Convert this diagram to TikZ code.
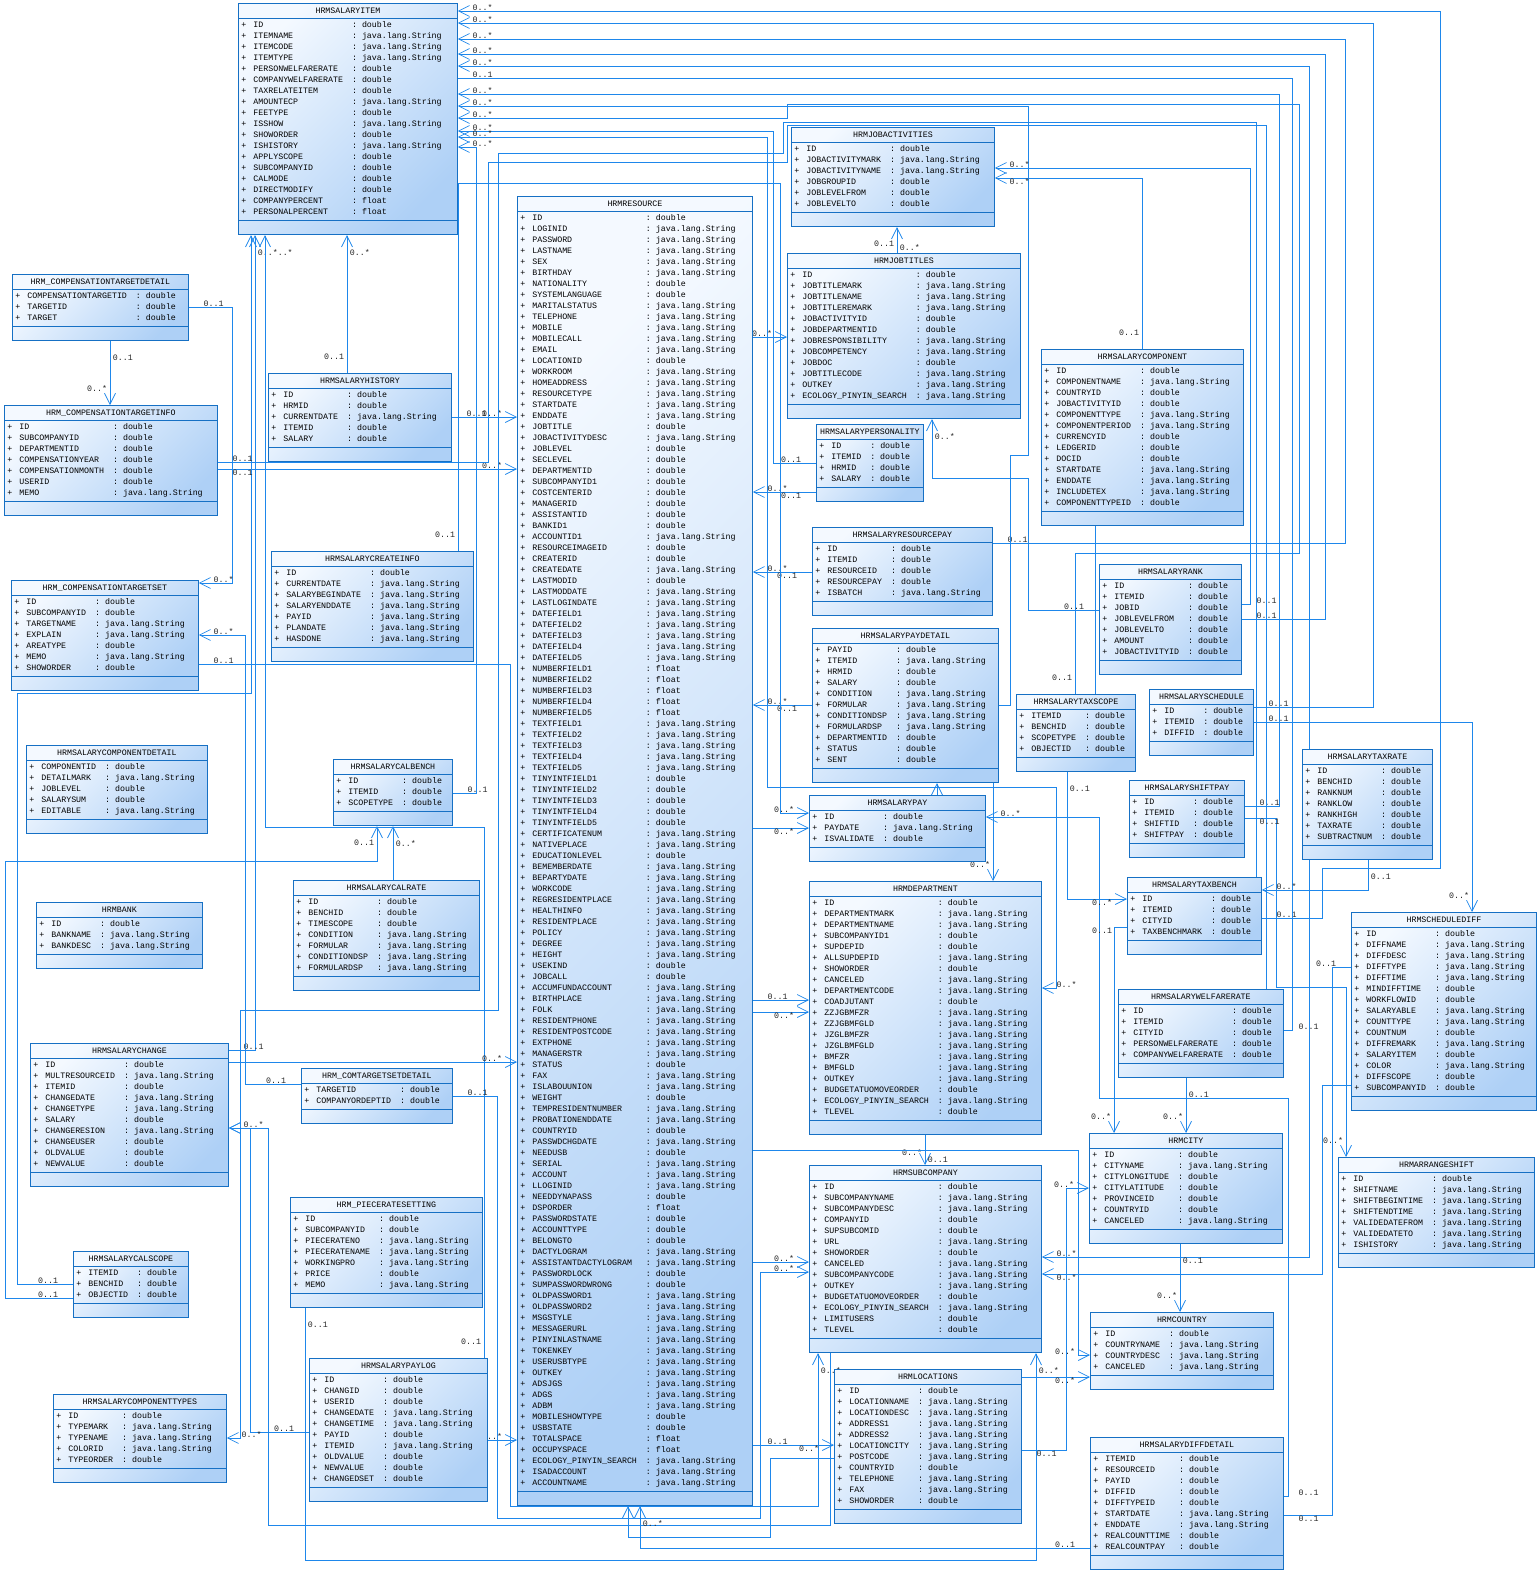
\documentclass[tikz,border=0pt]{standalone}
\usepackage{fontspec}
\setmonofont{Liberation Mono}
\usepackage{array}
\usetikzlibrary{positioning, arrows.meta, shapes.multipart}

\definecolor{clsline}{RGB}{22,112,196}
\definecolor{clstop}{RGB}{244,249,255}
\definecolor{clsbot}{RGB}{174,208,246}
\definecolor{wire}{RGB}{30,135,235}
\pgfdeclarelayer{bg}
\pgfdeclarelayer{wires}
\pgfsetlayers{bg,wires,main}

\newcommand\dbl{double}
\newcommand\jstr{java.lang.String}
\newcommand\flt{float}
\newcommand\umlfont{\ttfamily\fontsize{8.3}{11}\selectfont}
% class box: id, title, x, y, width, rows
\newcommand\umlclass[6]{%
  \node[cls, minimum width=#5pt] (#1) at (#3,#4)
    {\strut #2\nodepart{two}\begin{tabular}{@{}>{+\hspace{7pt}}l@{\hspace{9pt}:\hspace{5pt}}l@{}}#6\end{tabular}};}

\begin{document}
\begin{tikzpicture}[
  x=1pt, y=-1pt,
  cls/.style={rectangle split, rectangle split parts=3,
              rectangle split part align={center,left,left},
              rectangle split empty part height=11pt,
              draw=clsline, line width=0.8pt,
              top color=clstop, bottom color=clsbot, shading angle=45,
              anchor=north west, inner xsep=3pt, inner ysep=1.5pt, font=\umlfont},
  assoc/.style={draw=wire, line width=0.7pt},
  nav/.style={assoc, -{Straight Barb[length=11pt, width=11pt]}},
  bnav/.style={assoc, {Straight Barb[length=11pt, width=11pt]}-{Straight Barb[length=11pt, width=11pt]}},
  lab/.style={font=\umlfont, inner sep=0.5pt, text=black!85},
  lr/.style={lab, anchor=south west, xshift=14pt},
  lrb/.style={lab, anchor=north west, xshift=14pt},
  ll/.style={lab, anchor=south east, xshift=-14pt},
  llb/.style={lab, anchor=north east, xshift=-14pt},
  ltl/.style={lab, anchor=south east, xshift=-2pt, yshift=13pt},
  ltr/.style={lab, anchor=south west, xshift=2pt, yshift=2pt},
  lbr/.style={lab, anchor=north west, xshift=2pt, yshift=-13pt},
  lbl/.style={lab, anchor=north east, xshift=-2pt, yshift=-13pt}
]
\useasboundingbox (0,0) rectangle (1538,1575);
\begin{pgfonlayer}{bg}
  \fill[white] (0,0) rectangle (1538,1575);
\end{pgfonlayer}

% left column
\umlclass{item}{HRMSALARYITEM}{238}{3}{219}{ID & \dbl \\ ITEMNAME & \jstr \\ ITEMCODE & \jstr \\ ITEMTYPE & \jstr \\ PERSONWELFARERATE & \dbl \\ COMPANYWELFARERATE & \dbl \\ TAXRELATEITEM & \dbl \\ AMOUNTECP & \jstr \\ FEETYPE & \dbl \\ ISSHOW & \jstr \\ SHOWORDER & \dbl \\ ISHISTORY & \jstr \\ APPLYSCOPE & \dbl \\ SUBCOMPANYID & \dbl \\ CALMODE & \dbl \\ DIRECTMODIFY & \dbl \\ COMPANYPERCENT & \flt \\ PERSONALPERCENT & \flt}
\umlclass{cdetail}{HRM\_COMPENSATIONTARGETDETAIL}{12}{274}{176}{COMPENSATIONTARGETID & \dbl \\ TARGETID & \dbl \\ TARGET & \dbl}
\umlclass{cinfo}{HRM\_COMPENSATIONTARGETINFO}{4}{405}{213}{ID & \dbl \\ SUBCOMPANYID & \dbl \\ DEPARTMENTID & \dbl \\ COMPENSATIONYEAR & \dbl \\ COMPENSATIONMONTH & \dbl \\ USERID & \dbl \\ MEMO & \jstr}
\umlclass{history}{HRMSALARYHISTORY}{268}{373}{183}{ID & \dbl \\ HRMID & \dbl \\ CURRENTDATE & \jstr \\ ITEMID & \dbl \\ SALARY & \dbl}
\umlclass{createinfo}{HRMSALARYCREATEINFO}{271}{551}{202}{ID & \dbl \\ CURRENTDATE & \jstr \\ SALARYBEGINDATE & \jstr \\ SALARYENDDATE & \jstr \\ PAYID & \jstr \\ PLANDATE & \jstr \\ HASDONE & \jstr}
\umlclass{ctargetset}{HRM\_COMPENSATIONTARGETSET}{11}{580}{187}{ID & \dbl \\ SUBCOMPANYID & \dbl \\ TARGETNAME & \jstr \\ EXPLAIN & \jstr \\ AREATYPE & \dbl \\ MEMO & \jstr \\ SHOWORDER & \dbl}
\umlclass{compdetail}{HRMSALARYCOMPONENTDETAIL}{26}{745}{181}{COMPONENTID & \dbl \\ DETAILMARK & \jstr \\ JOBLEVEL & \dbl \\ SALARYSUM & \dbl \\ EDITABLE & \jstr}
\umlclass{calbench}{HRMSALARYCALBENCH}{333}{759}{119}{ID & \dbl \\ ITEMID & \dbl \\ SCOPETYPE & \dbl}
\umlclass{calrate}{HRMSALARYCALRATE}{293}{880}{186}{ID & \dbl \\ BENCHID & \dbl \\ TIMESCOPE & \dbl \\ CONDITION & \jstr \\ FORMULAR & \jstr \\ CONDITIONDSP & \jstr \\ FORMULARDSP & \jstr}
\umlclass{bank}{HRMBANK}{36}{902}{166}{ID & \dbl \\ BANKNAME & \jstr \\ BANKDESC & \jstr}
\umlclass{change}{HRMSALARYCHANGE}{30}{1043}{198}{ID & \dbl \\ MULTRESOURCEID & \jstr \\ ITEMID & \dbl \\ CHANGEDATE & \jstr \\ CHANGETYPE & \jstr \\ SALARY & \dbl \\ CHANGERESION & \jstr \\ CHANGEUSER & \dbl \\ OLDVALUE & \dbl \\ NEWVALUE & \dbl}
\umlclass{comtarget}{HRM\_COMTARGETSETDETAIL}{301}{1068}{151}{TARGETID & \dbl \\ COMPANYORDEPTID & \dbl}
\umlclass{piecerate}{HRM\_PIECERATESETTING}{290}{1197}{192}{ID & \dbl \\ SUBCOMPANYID & \dbl \\ PIECERATENO & \jstr \\ PIECERATENAME & \jstr \\ WORKINGPRO & \jstr \\ PRICE & \dbl \\ MEMO & \jstr}
\umlclass{calscope}{HRMSALARYCALSCOPE}{73}{1251}{115}{ITEMID & \dbl \\ BENCHID & \dbl \\ OBJECTID & \dbl}
\umlclass{paylog}{HRMSALARYPAYLOG}{309}{1358}{178}{ID & \dbl \\ CHANGID & \dbl \\ USERID & \dbl \\ CHANGEDATE & \jstr \\ CHANGETIME & \jstr \\ PAYID & \dbl \\ ITEMID & \jstr \\ OLDVALUE & \dbl \\ NEWVALUE & \dbl \\ CHANGEDSET & \dbl}
\umlclass{comptypes}{HRMSALARYCOMPONENTTYPES}{53}{1394}{173}{ID & \dbl \\ TYPEMARK & \jstr \\ TYPENAME & \jstr \\ COLORID & \jstr \\ TYPEORDER & \dbl}

% resource
\umlclass{resource}{HRMRESOURCE}{517}{196}{235}{ID & \dbl \\ LOGINID & \jstr \\ PASSWORD & \jstr \\ LASTNAME & \jstr \\ SEX & \jstr \\ BIRTHDAY & \jstr \\ NATIONALITY & \dbl \\ SYSTEMLANGUAGE & \dbl \\ MARITALSTATUS & \jstr \\ TELEPHONE & \jstr \\ MOBILE & \jstr \\ MOBILECALL & \jstr \\ EMAIL & \jstr \\ LOCATIONID & \dbl \\ WORKROOM & \jstr \\ HOMEADDRESS & \jstr \\ RESOURCETYPE & \jstr \\ STARTDATE & \jstr \\ ENDDATE & \jstr \\ JOBTITLE & \dbl \\ JOBACTIVITYDESC & \jstr \\ JOBLEVEL & \dbl \\ SECLEVEL & \dbl \\ DEPARTMENTID & \dbl \\ SUBCOMPANYID1 & \dbl \\ COSTCENTERID & \dbl \\ MANAGERID & \dbl \\ ASSISTANTID & \dbl \\ BANKID1 & \dbl \\ ACCOUNTID1 & \jstr \\ RESOURCEIMAGEID & \dbl \\ CREATERID & \dbl \\ CREATEDATE & \jstr \\ LASTMODID & \dbl \\ LASTMODDATE & \jstr \\ LASTLOGINDATE & \jstr \\ DATEFIELD1 & \jstr \\ DATEFIELD2 & \jstr \\ DATEFIELD3 & \jstr \\ DATEFIELD4 & \jstr \\ DATEFIELD5 & \jstr \\ NUMBERFIELD1 & \flt \\ NUMBERFIELD2 & \flt \\ NUMBERFIELD3 & \flt \\ NUMBERFIELD4 & \flt \\ NUMBERFIELD5 & \flt \\ TEXTFIELD1 & \jstr \\ TEXTFIELD2 & \jstr \\ TEXTFIELD3 & \jstr \\ TEXTFIELD4 & \jstr \\ TEXTFIELD5 & \jstr \\ TINYINTFIELD1 & \dbl \\ TINYINTFIELD2 & \dbl \\ TINYINTFIELD3 & \dbl \\ TINYINTFIELD4 & \dbl \\ TINYINTFIELD5 & \dbl \\ CERTIFICATENUM & \jstr \\ NATIVEPLACE & \jstr \\ EDUCATIONLEVEL & \dbl \\ BEMEMBERDATE & \jstr \\ BEPARTYDATE & \jstr \\ WORKCODE & \jstr \\ REGRESIDENTPLACE & \jstr \\ HEALTHINFO & \jstr \\ RESIDENTPLACE & \jstr \\ POLICY & \jstr \\ DEGREE & \jstr \\ HEIGHT & \jstr \\ USEKIND & \dbl \\ JOBCALL & \dbl \\ ACCUMFUNDACCOUNT & \jstr \\ BIRTHPLACE & \jstr \\ FOLK & \jstr \\ RESIDENTPHONE & \jstr \\ RESIDENTPOSTCODE & \jstr \\ EXTPHONE & \jstr \\ MANAGERSTR & \jstr \\ STATUS & \dbl \\ FAX & \jstr \\ ISLABOUUNION & \jstr \\ WEIGHT & \dbl \\ TEMPRESIDENTNUMBER & \jstr \\ PROBATIONENDDATE & \jstr \\ COUNTRYID & \dbl \\ PASSWDCHGDATE & \jstr \\ NEEDUSB & \dbl \\ SERIAL & \jstr \\ ACCOUNT & \jstr \\ LLOGINID & \jstr \\ NEEDDYNAPASS & \dbl \\ DSPORDER & \flt \\ PASSWORDSTATE & \dbl \\ ACCOUNTTYPE & \dbl \\ BELONGTO & \dbl \\ DACTYLOGRAM & \jstr \\ ASSISTANTDACTYLOGRAM & \jstr \\ PASSWORDLOCK & \dbl \\ SUMPASSWORDWRONG & \dbl \\ OLDPASSWORD1 & \jstr \\ OLDPASSWORD2 & \jstr \\ MSGSTYLE & \jstr \\ MESSAGERURL & \jstr \\ PINYINLASTNAME & \jstr \\ TOKENKEY & \jstr \\ USERUSBTYPE & \jstr \\ OUTKEY & \jstr \\ ADSJGS & \jstr \\ ADGS & \jstr \\ ADBM & \jstr \\ MOBILESHOWTYPE & \dbl \\ USBSTATE & \dbl \\ TOTALSPACE & \flt \\ OCCUPYSPACE & \flt \\ ECOLOGY\_PINYIN\_SEARCH & \jstr \\ ISADACCOUNT & \jstr \\ ACCOUNTNAME & \jstr}

% middle column
\umlclass{jobact}{HRMJOBACTIVITIES}{791}{127}{203}{ID & \dbl \\ JOBACTIVITYMARK & \jstr \\ JOBACTIVITYNAME & \jstr \\ JOBGROUPID & \dbl \\ JOBLEVELFROM & \dbl \\ JOBLEVELTO & \dbl}
\umlclass{jobtitles}{HRMJOBTITLES}{787}{253}{233}{ID & \dbl \\ JOBTITLEMARK & \jstr \\ JOBTITLENAME & \jstr \\ JOBTITLEREMARK & \jstr \\ JOBACTIVITYID & \dbl \\ JOBDEPARTMENTID & \dbl \\ JOBRESPONSIBILITY & \jstr \\ JOBCOMPETENCY & \jstr \\ JOBDOC & \dbl \\ JOBTITLECODE & \jstr \\ OUTKEY & \jstr \\ ECOLOGY\_PINYIN\_SEARCH & \jstr}
\umlclass{personality}{HRMSALARYPERSONALITY}{816}{424}{107}{ID & \dbl \\ ITEMID & \dbl \\ HRMID & \dbl \\ SALARY & \dbl}
\umlclass{respay}{HRMSALARYRESOURCEPAY}{812}{527}{180}{ID & \dbl \\ ITEMID & \dbl \\ RESOURCEID & \dbl \\ RESOURCEPAY & \dbl \\ ISBATCH & \jstr}
\umlclass{paydetail}{HRMSALARYPAYDETAIL}{812}{628}{186}{PAYID & \dbl \\ ITEMID & \jstr \\ HRMID & \dbl \\ SALARY & \dbl \\ CONDITION & \jstr \\ FORMULAR & \jstr \\ CONDITIONDSP & \jstr \\ FORMULARDSP & \jstr \\ DEPARTMENTID & \dbl \\ STATUS & \dbl \\ SENT & \dbl}
\umlclass{salarypay}{HRMSALARYPAY}{809}{795}{176}{ID & \dbl \\ PAYDATE & \jstr \\ ISVALIDATE & \dbl}
\umlclass{department}{HRMDEPARTMENT}{809}{881}{232}{ID & \dbl \\ DEPARTMENTMARK & \jstr \\ DEPARTMENTNAME & \jstr \\ SUBCOMPANYID1 & \dbl \\ SUPDEPID & \dbl \\ ALLSUPDEPID & \jstr \\ SHOWORDER & \dbl \\ CANCELED & \jstr \\ DEPARTMENTCODE & \jstr \\ COADJUTANT & \dbl \\ ZZJGBMFZR & \jstr \\ ZZJGBMFGLD & \jstr \\ JZGLBMFZR & \jstr \\ JZGLBMFGLD & \jstr \\ BMFZR & \jstr \\ BMFGLD & \jstr \\ OUTKEY & \jstr \\ BUDGETATUOMOVEORDER & \dbl \\ ECOLOGY\_PINYIN\_SEARCH & \jstr \\ TLEVEL & \dbl}
\umlclass{subcompany}{HRMSUBCOMPANY}{809}{1165}{232}{ID & \dbl \\ SUBCOMPANYNAME & \jstr \\ SUBCOMPANYDESC & \jstr \\ COMPANYID & \dbl \\ SUPSUBCOMID & \dbl \\ URL & \jstr \\ SHOWORDER & \dbl \\ CANCELED & \jstr \\ SUBCOMPANYCODE & \jstr \\ OUTKEY & \jstr \\ BUDGETATUOMOVEORDER & \dbl \\ ECOLOGY\_PINYIN\_SEARCH & \jstr \\ LIMITUSERS & \dbl \\ TLEVEL & \dbl}
\umlclass{locations}{HRMLOCATIONS}{834}{1369}{187}{ID & \dbl \\ LOCATIONNAME & \jstr \\ LOCATIONDESC & \jstr \\ ADDRESS1 & \jstr \\ ADDRESS2 & \jstr \\ LOCATIONCITY & \jstr \\ POSTCODE & \jstr \\ COUNTRYID & \dbl \\ TELEPHONE & \jstr \\ FAX & \jstr \\ SHOWORDER & \dbl}

% right column
\umlclass{component}{HRMSALARYCOMPONENT}{1041}{349}{202}{ID & \dbl \\ COMPONENTNAME & \jstr \\ COUNTRYID & \dbl \\ JOBACTIVITYID & \dbl \\ COMPONENTTYPE & \jstr \\ COMPONENTPERIOD & \jstr \\ CURRENCYID & \dbl \\ LEDGERID & \dbl \\ DOCID & \dbl \\ STARTDATE & \jstr \\ ENDDATE & \jstr \\ INCLUDETEX & \jstr \\ COMPONENTTYPEID & \dbl}
\umlclass{rank}{HRMSALARYRANK}{1099}{564}{142}{ID & \dbl \\ ITEMID & \dbl \\ JOBID & \dbl \\ JOBLEVELFROM & \dbl \\ JOBLEVELTO & \dbl \\ AMOUNT & \dbl \\ JOBACTIVITYID & \dbl}
\umlclass{taxscope}{HRMSALARYTAXSCOPE}{1016}{694}{119}{ITEMID & \dbl \\ BENCHID & \dbl \\ SCOPETYPE & \dbl \\ OBJECTID & \dbl}
\umlclass{schedule}{HRMSALARYSCHEDULE}{1149}{689}{104}{ID & \dbl \\ ITEMID & \dbl \\ DIFFID & \dbl}
\umlclass{taxrate}{HRMSALARYTAXRATE}{1302}{749}{130}{ID & \dbl \\ BENCHID & \dbl \\ RANKNUM & \dbl \\ RANKLOW & \dbl \\ RANKHIGH & \dbl \\ TAXRATE & \dbl \\ SUBTRACTNUM & \dbl}
\umlclass{shiftpay}{HRMSALARYSHIFTPAY}{1129}{780}{115}{ID & \dbl \\ ITEMID & \dbl \\ SHIFTID & \dbl \\ SHIFTPAY & \dbl}
\umlclass{taxbench}{HRMSALARYTAXBENCH}{1127}{877}{134}{ID & \dbl \\ ITEMID & \dbl \\ CITYID & \dbl \\ TAXBENCHMARK & \dbl}
\umlclass{welfare}{HRMSALARYWELFARERATE}{1118}{989}{165}{ID & \dbl \\ ITEMID & \dbl \\ CITYID & \dbl \\ PERSONWELFARERATE & \dbl \\ COMPANYWELFARERATE & \dbl}
\umlclass{scheddiff}{HRMSCHEDULEDIFF}{1351}{912}{185}{ID & \dbl \\ DIFFNAME & \jstr \\ DIFFDESC & \jstr \\ DIFFTYPE & \jstr \\ DIFFTIME & \jstr \\ MINDIFFTIME & \dbl \\ WORKFLOWID & \dbl \\ SALARYABLE & \jstr \\ COUNTTYPE & \jstr \\ COUNTNUM & \dbl \\ DIFFREMARK & \jstr \\ SALARYITEM & \dbl \\ COLOR & \jstr \\ DIFFSCOPE & \dbl \\ SUBCOMPANYID & \dbl}
\umlclass{city}{HRMCITY}{1089}{1133}{193}{ID & \dbl \\ CITYNAME & \jstr \\ CITYLONGITUDE & \dbl \\ CITYLATITUDE & \dbl \\ PROVINCEID & \dbl \\ COUNTRYID & \dbl \\ CANCELED & \jstr}
\umlclass{country}{HRMCOUNTRY}{1090}{1312}{183}{ID & \dbl \\ COUNTRYNAME & \jstr \\ COUNTRYDESC & \jstr \\ CANCELED & \jstr}
\umlclass{diffdetail}{HRMSALARYDIFFDETAIL}{1090}{1437}{193}{ITEMID & \dbl \\ RESOURCEID & \dbl \\ PAYID & \dbl \\ DIFFID & \dbl \\ DIFFTYPEID & \dbl \\ STARTDATE & \jstr \\ ENDDATE & \jstr \\ REALCOUNTTIME & \dbl \\ REALCOUNTPAY & \dbl}
\umlclass{arrange}{HRMARRANGESHIFT}{1338}{1157}{196}{ID & \dbl \\ SHIFTNAME & \jstr \\ SHIFTBEGINTIME & \jstr \\ SHIFTENDTIME & \jstr \\ VALIDEDATEFROM & \jstr \\ VALIDEDATETO & \jstr \\ ISHISTORY & \jstr}

\begin{pgfonlayer}{wires}
% salary item, east side
\draw[nav] (taxbench.east |- 0,918) node[lr]{0..1} -| (1322,868) -| (1440,11) -- (item.east |- 0,11) node[lr]{0..*};
\draw[nav] (schedule.east |- 0,707) node[lr]{0..1} -| (1373,23) -- (item.east |- 0,23) node[lr]{0..*};
\draw[nav] (respay.east |- 0,543) node[lr]{0..1} -| (1345,39) -- (item.east |- 0,39) node[lr]{0..*};
\draw[nav] (rank.east |- 0,619) node[lr]{0..1} -| (1325,54) -- (item.east |- 0,54) node[lr]{0..*};
\draw[bnav] (subcompany.east |- 0,1257) node[lr]{0..*} -| (1309,66) -- (item.east |- 0,66) node[lr]{0..*};
\draw[assoc] (welfare.east |- 0,1030) node[lr]{0..1} -| (1292,78) -- (item.east |- 0,78) node[lr]{0..1};
\draw[nav] (shiftpay.east |- 0,806) node[lr]{0..1} -| (1279,94) -- (item.east |- 0,94) node[lr]{0..*};
\draw[nav] (paydetail.east |- 0,705) -| (1010,455) -| (1028,106) -- (item.east |- 0,106) node[lr]{0..*};
\draw[nav] (taxscope.north -| 1075,0) node[ltl]{0..1} |- (1299,553) |- (787,104) |- (item.east |- 0,118) node[lr]{0..*};
\draw[nav] (personality.west |- 0,463) node[ll]{0..1} -| (773,131) -- (item.east |- 0,131) node[lr]{0..*};
\draw[bnav] (department.east |- 0,988) node[lr]{0..*} -| (1056,787) -| (767,137) -- (item.east |- 0,137) node[lr]{0..*};
\draw[nav] (calbench.east |- 0,793) node[lr]{0..1} -| (476,147) -- (item.east |- 0,147) node[lr]{0..*};
% salary item, south side
\draw[nav] (history.north -| 347,0) node[ltl]{0..1} -- (item.south -| 347,0) node[lbr]{0..*};
\draw[nav] (calscope.west |- 0,1284) node[ll]{0..1} -| (17,693) -| (item.south -| 251,0);
\draw[nav] (change.east |- 0,1050) node[lr]{0..1} -| (item.south -| 255,0) node[lbr]{0..*..*};
\draw[nav] (paylog.north -| 484,0) node[ltl]{0..1} |- (265,827) -- (item.south -| 265,0);
% left column
\draw[nav] (cdetail.south -| 110,0) node[lbr]{0..1} -- (cinfo.north -| 110,0) node[ltl]{0..*};
\draw[nav] (cdetail.east |- 0,307) node[lr]{0..1} -| (232,583) -- (ctargetset.east |- 0,583) node[lr]{0..*};
\draw[nav] (comtarget.west |- 0,1084) node[ll]{0..1} -| (245,635) -- (ctargetset.east |- 0,635) node[lr]{0..*};
\draw[nav] (ctargetset.east |- 0,664) node[lr]{0..1} -| (510,1506) -| (subcompany.south -| 818,0) node[lbr]{0..*};
\draw[nav] (comtarget.east |- 0,1096) node[lr]{0..1} -| (497,1518) -| (760,1272) -- (subcompany.west |- 0,1272) node[ll]{0..*};
\draw[nav] (subcompany.south -| 830,0) |- (268,1525) |- (change.east |- 0,1128);
\draw[nav] (locations.west |- 0,1458) -| (770,1537) -| (resource.south -| 628,0);
\draw[nav] (diffdetail.west |- 0,1548) node[ll]{0..1} -| (resource.south -| 640,0) node[lbr]{0..*};
\draw[nav] (piecerate.south -| 305,0) node[lbr]{0..1} |- (1036,1560) -- (subcompany.south -| 1036,0) node[lbr]{0..*};
\draw[nav] (paylog.east |- 0,1440) -- (resource.west |- 0,1440) node[ll]{0..*};
\draw[nav] (paylog.west |- 0,1432) node[ll]{0..1} -| (250,1128) -- (change.east |- 0,1128) node[lr]{0..*};
\draw[nav] (change.east |- 0,1062) -- (resource.west |- 0,1062) node[ll]{0..*};
\draw[nav] (history.east |- 0,417) node[lr]{0..1} -- (resource.west |- 0,417) node[ll]{0..*};
\draw[nav] (cinfo.east |- 0,469) node[lrb]{0..1} -- (resource.west |- 0,469) node[ll]{0..*};
\draw[assoc] (welfare.north -| 1266,0) |- (787,125) |- (488,162) |- (cinfo.east |- 0,462) node[lr]{0..1};
\draw[nav] (taxbench.north -| 1256,0) |- (783,122) |- (498,153) |- (240,1010) |- (comptypes.east |- 0,1438) node[lr]{0..*};
\draw[nav] (calscope.west |- 0,1298) node[ll]{0..1} -| (5,861) -| (calbench.south -| 377,0) node[lbl]{0..1};
\draw[nav] (calrate.north -| 393,0) -- (calbench.south -| 393,0) node[lbr]{0..*};
% middle column
\draw[nav] (resource.east |- 0,337) -- (jobtitles.west |- 0,337) node[ll]{0..*};
\draw[nav] (jobtitles.north -| 897,0) node[ltr]{0..*} -- (jobact.south -| 897,0) node[lbl]{0..1};
\draw[nav] (personality.west |- 0,492) node[llb]{0..1} -- (resource.east |- 0,492) node[lr]{0..*};
\draw[nav] (respay.west |- 0,572) node[llb]{0..1} -- (resource.east |- 0,572) node[lr]{0..*};
\draw[nav] (paydetail.west |- 0,705) node[llb]{0..1} -- (resource.east |- 0,705) node[lr]{0..*};
\draw[nav] (rank.east |- 0,604) node[lr]{0..1} -| (1250,168) -- (jobact.east |- 0,168) node[lr]{0..*};
\draw[nav] (component.north -| 1142,0) node[ltl]{0..1} |- (jobact.east |- 0,178) node[lrb]{0..*};
\draw[nav] (rank.west |- 0,610) node[ll]{0..1} -| (1028,478) -| (jobtitles.south -| 932,0) node[lbr]{0..*};
\draw[nav] (createinfo.north -| 458,0) node[ltl]{0..1} |- (780,183) |- (salarypay.west |- 0,813) node[ll]{0..*};
\draw[nav] (resource.east |- 0,828) -- (salarypay.west |- 0,828) node[llb]{0..*};
\draw[nav] (diffdetail.east |- 0,1496) node[lr]{0..1} -| (1288,1098) -| (1099,817) -- (salarypay.east |- 0,817) node[lr]{0..*};
\draw[nav] (paydetail.south -| 993,0) -- (department.north -| 993,0) node[ltl]{0..*};
\draw[nav] (salarypay.north -| 937,0) -- (paydetail.south -| 937,0);
\draw[nav] (department.south -| 925,0) node[lbl]{0..*} -- (subcompany.north -| 925,0) node[ltr]{0..1};
\draw[nav] (resource.east |- 0,1000) node[lr]{0..1} -- (department.west |- 0,1000);
\draw[nav] (resource.east |- 0,1012) -- (department.west |- 0,1012) node[llb]{0..*};
\draw[nav] (resource.east |- 0,1262) -- (subcompany.west |- 0,1262) node[ll]{0..*};
\draw[nav] (resource.east |- 0,1445) node[lr]{0..1} -- (locations.west |- 0,1445) node[llb]{0..*};
\draw[nav] (resource.east |- 0,1150) -| (1078,1355) -- (country.west |- 0,1355) node[ll]{0..*};
% right column
\draw[assoc] (component.south -| 1095,0) -- (taxscope.north -| 1095,0);
\draw[nav] (taxscope.south -| 1067,0) node[lbr]{0..1} |- (taxbench.west |- 0,899) node[llb]{0..*};
\draw[nav] (taxrate.south -| 1368,0) node[lbr]{0..1} |- (taxbench.east |- 0,890) node[lr]{0..*};
\draw[nav] (schedule.east |- 0,722) node[lr]{0..1} -| (scheddiff.north -| 1472,0) node[ltl]{0..*};
\draw[nav] (shiftpay.east |- 0,818) node[lrb]{0..1} -| (1276,987) -| (arrange.north -| 1346,0) node[ltl]{0..*};
\draw[assoc] (diffdetail.east |- 0,1515) node[lrb]{0..1} -| (1332,967) -- (scheddiff.west |- 0,967) node[ll]{0..1};
\draw[nav] (scheddiff.west |- 0,1085) -| (1322,1274) -- (subcompany.east |- 0,1274) node[lrb]{0..*};
\draw[nav] (welfare.south -| 1186,0) node[lbr]{0..1} -- (city.north -| 1186,0) node[ltl]{0..*};
\draw[nav] (taxbench.west |- 0,927) node[llb]{0..1} -| (city.north -| 1114,0) node[ltl]{0..*};
\draw[nav] (city.south -| 1180,0) node[lbr]{0..1} -- (country.north -| 1180,0) node[ltl]{0..*};
\draw[nav] (locations.east |- 0,1377) -- (country.west |- 0,1377) node[llb]{0..*};
\draw[nav] (locations.east |- 0,1450) node[lrb]{0..1} -| (1066,1188) -- (city.west |- 0,1188) node[ll]{0..*};
\end{pgfonlayer}
\end{tikzpicture}
\end{document}
